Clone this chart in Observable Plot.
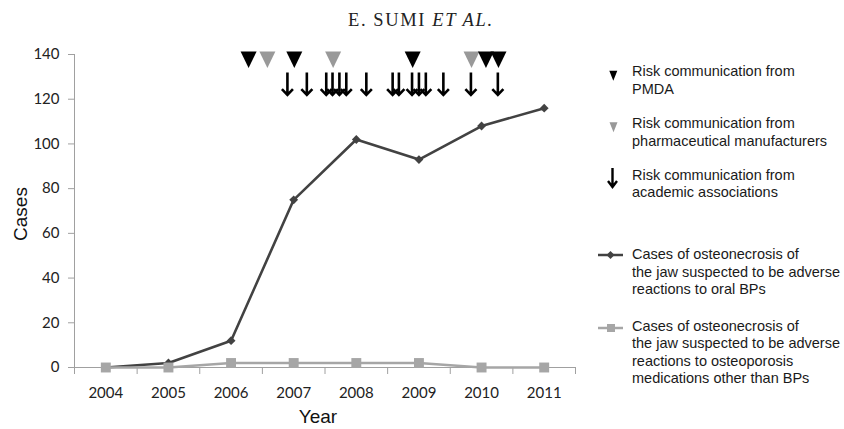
<!DOCTYPE html>
<html>
<head>
<meta charset="utf-8">
<script src="https://cdn.jsdelivr.net/npm/d3@7"></script>
<script src="https://cdn.jsdelivr.net/npm/@observablehq/plot@0.6"></script>
<style>
  html, body { margin: 0; padding: 0; background: #fff; }
  #wrap { position: relative; width: 844px; height: 429px; overflow: hidden; background: #fff; }
  #title { position: absolute; left: 348px; top: 11px; font-family: "Liberation Serif", serif; font-size: 18.5px; line-height: 18.5px; letter-spacing: 1.6px; color: #222; white-space: nowrap; }
  #chart { position: absolute; left: 0; top: 40px; }
  .axlab { position: absolute; font-family: "Liberation Sans", Arial, sans-serif; font-size: 19px; line-height: 19px; color: #111; white-space: nowrap; transform: translate(-50%, -50%); }
  .leg { position: absolute; left: 632px; font-family: "Liberation Sans", Arial, sans-serif; font-size: 14.5px; line-height: 17.6px; color: #1a1a1a; white-space: nowrap; }
  #legicons { position: absolute; left: 590px; top: 0; }
</style>
</head>
<body>
<div id="wrap">
  <div id="title">E. SUMI <i>ET AL.</i></div>
  <div id="chart"></div>
  <div class="axlab" style="left:20px; top:214px; transform: translate(-50%,-50%) rotate(-90deg);">Cases</div>
  <div class="axlab" style="left:318px; top:416px;">Year</div>
  <svg id="legicons" width="254" height="429"></svg>
  <div class="leg" style="top:63px">Risk communication from<br>PMDA</div>
  <div class="leg" style="top:115px">Risk communication from<br>pharmaceutical manufacturers</div>
  <div class="leg" style="top:166.5px">Risk communication from<br>academic associations</div>
  <div class="leg" style="top:246px">Cases of osteonecrosis of<br>the jaw suspected to be adverse<br>reactions to oral BPs</div>
  <div class="leg" style="top:317.5px">Cases of osteonecrosis of<br>the jaw suspected to be adverse<br>reactions to osteoporosis<br>medications other than BPs</div>
</div>
<script>
// ---- data ----
const years = [2004, 2005, 2006, 2007, 2008, 2009, 2010, 2011];
const oralBP = [0, 2, 12, 75, 102, 93, 108, 116];
const otherMeds = [0, 0, 2, 2, 2, 2, 0, 0];
const triangleX = [2006.28, 2006.58, 2007.01, 2007.63, 2008.90, 2009.84, 2010.07, 2010.27];
const triangleSource = ["PMDA", "Manufacturer", "PMDA", "Manufacturer", "PMDA", "Manufacturer", "PMDA", "PMDA"];
const arrowX = [2006.90, 2007.21, 2007.52, 2007.62, 2007.73, 2007.84, 2008.16, 2008.58, 2008.68, 2008.89, 2009.00, 2009.11, 2009.39, 2009.83, 2010.26];
const yTicks = [0, 20, 40, 60, 80, 100, 120, 140];
const yearBoundaries = [2003.5, 2004.5, 2005.5, 2006.5, 2007.5, 2008.5, 2009.5, 2010.5, 2011.5];

// ---- tables ----
const oralTable = years.map((year, i) => ({year, value: oralBP[i]}));
const otherTable = years.map((year, i) => ({year, value: otherMeds[i]}));
const triTable = triangleX.map((x, i) => ({x, source: triangleSource[i]}));
const arrowTable = arrowX.map(x => ({x}));

// custom symbols
const downTriangle = {
  draw(ctx, size) {
    const s = Math.sqrt(size / Math.PI);
    ctx.moveTo(-s, -s);
    ctx.lineTo(s, -s);
    ctx.lineTo(0, s * 1.05);
    ctx.closePath();
  }
};
const downArrow = {
  draw(ctx, size) {
    const s = Math.sqrt(size / Math.PI);
    ctx.moveTo(0, -s);
    ctx.lineTo(0, s * 0.95);
    ctx.moveTo(-s * 0.48, s * 0.45);
    ctx.lineTo(0, s * 0.95);
    ctx.lineTo(s * 0.48, s * 0.45);
  }
};

const axisGray = "#a0a0a0";

const chart = Plot.plot({
  width: 600,
  height: 389,
  marginLeft: 74,
  marginRight: 25,
  marginTop: 14,
  marginBottom: 62,
  x: {domain: [2003.5, 2011.5]},
  y: {domain: [0, 140]},
  style: {fontFamily: "Lato, sans-serif", fontSize: "15px", color: "#222", background: "white"},
  marks: [
    Plot.axisY({ticks: yTicks, tickSize: 6, tickPadding: 9, stroke: axisGray, label: null, fontSize: 15}),
    Plot.ruleX([2003.5], {y1: 0, y2: 140, stroke: axisGray}),
    Plot.ruleY([0], {stroke: axisGray}),
    Plot.axisX({ticks: yearBoundaries, tickSize: 7, tickFormat: () => "", stroke: axisGray, label: null}),
    Plot.axisX({ticks: years, tickSize: 0, tickPadding: 20, tickFormat: d => String(d), label: null, fontSize: 15}),
    Plot.line(oralTable, {x: "year", y: "value", stroke: "#424242", strokeWidth: 2.6}),
    Plot.dot(oralTable, {x: "year", y: "value", symbol: "diamond2", r: 4, fill: "#424242", stroke: "none"}),
    Plot.line(otherTable, {x: "year", y: "value", stroke: "#a6a6a6", strokeWidth: 2.6}),
    Plot.dot(otherTable, {x: "year", y: "value", symbol: "square", r: 5.6, fill: "#a6a6a6", stroke: "none"}),
    Plot.dot(triTable, {filter: d => d.source !== "PMDA", x: "x", frameAnchor: "top", dy: 5, symbol: downTriangle, r: 8, fill: "#999999", stroke: "none"}),
    Plot.dot(triTable, {filter: d => d.source === "PMDA", x: "x", frameAnchor: "top", dy: 5, symbol: downTriangle, r: 8, fill: "#000000", stroke: "none"}),
    Plot.dot(arrowTable, {x: "x", frameAnchor: "top", dy: 29.5, symbol: downArrow, r: 11.5, fill: "none", stroke: "#000", strokeWidth: 2.6})
  ]
});
document.getElementById("chart").appendChild(chart);

// legend icons (relative to svg at left 590)
const li = d3.select("#legicons");
li.append("path").attr("d", "M19.3,70.7L27.3,70.7L23.3,80.7Z").attr("fill", "#000");
li.append("path").attr("d", "M19.5,122.2L27.5,122.2L23.5,132.2Z").attr("fill", "#999");
li.append("path").attr("d", "M22.5,168L22.5,187M18,181L22.5,187L27,181").attr("fill", "none").attr("stroke", "#000").attr("stroke-width", 2.4);
li.append("line").attr("x1", 8).attr("x2", 33).attr("y1", 255).attr("y2", 255).attr("stroke", "#424242").attr("stroke-width", 2.5);
li.append("path").attr("d", "M20.5,251L24.5,255L20.5,259L16.5,255Z").attr("fill", "#424242");
li.append("line").attr("x1", 8).attr("x2", 33).attr("y1", 328).attr("y2", 328).attr("stroke", "#a6a6a6").attr("stroke-width", 2.5);
li.append("rect").attr("x", 17).attr("y", 324).attr("width", 8).attr("height", 8).attr("fill", "#a6a6a6");
</script>
</body>
</html>
